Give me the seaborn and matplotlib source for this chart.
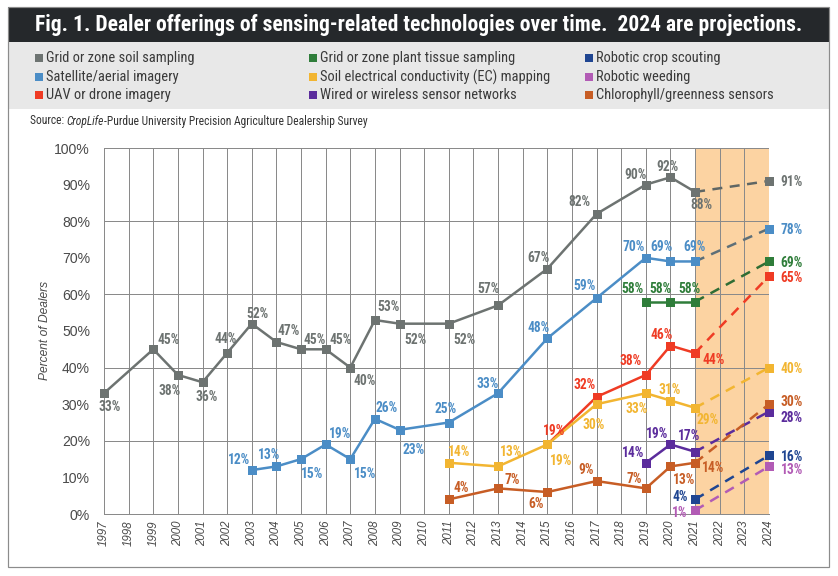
import numpy as np
import pandas as pd
import matplotlib
matplotlib.use("Agg")
import matplotlib.pyplot as plt
import seaborn as sns
from matplotlib.patches import Rectangle
from matplotlib.ticker import FuncFormatter
from matplotlib import font_manager as fm

# ---- data ----
soil_years = [1997, 1999, 2000, 2001, 2002, 2003, 2004, 2005, 2006, 2007, 2008, 2009, 2011, 2013, 2015, 2017, 2019, 2020, 2021, 2024]
soil = [33, 45, 38, 36, 44, 52, 47, 45, 45, 40, 53, 52, 52, 57, 67, 82, 90, 92, 88, 91]

sat_years = [2003, 2004, 2005, 2006, 2007, 2008, 2009, 2011, 2013, 2015, 2017, 2019, 2020, 2021, 2024]
sat = [12, 13, 15, 19, 15, 26, 23, 25, 33, 48, 59, 70, 69, 69, 78]

uav_years = [2015, 2017, 2019, 2020, 2021, 2024]
uav = [19, 32, 38, 46, 44, 65]

tissue_years = [2019, 2020, 2021, 2024]
tissue = [58, 58, 58, 69]

ec_years = [2011, 2013, 2015, 2017, 2019, 2020, 2021, 2024]
ec = [14, 13, 19, 30, 33, 31, 29, 40]

wired_years = [2019, 2020, 2021, 2024]
wired = [14, 19, 17, 28]

scout_years = [2021, 2024]
scout = [4, 16]

weed_years = [2021, 2024]
weed = [1, 13]

chloro_years = [2011, 2013, 2015, 2017, 2019, 2020, 2021, 2024]
chloro = [4, 7, 6, 9, 7, 13, 14, 30]

series_names = ["Grid or zone soil sampling", "Satellite/aerial imagery", "UAV or drone imagery",
                "Grid or zone plant tissue sampling", "Soil electrical conductivity (EC) mapping",
                "Wired or wireless sensor networks", "Robotic crop scouting", "Robotic weeding",
                "Chlorophyll/greenness sensors"]
series_years = [soil_years, sat_years, uav_years, tissue_years, ec_years, wired_years,
                scout_years, weed_years, chloro_years]
series_vals = [soil, sat, uav, tissue, ec, wired, scout, weed, chloro]

all_years = list(range(1997, 2025))
y_ticks = list(range(0, 101, 10))

# ---- styling ----
colors = ["#6d7371", "#4b8dc6", "#ef3b24", "#2f7d3a", "#f2b531", "#5b2c9c", "#1f4591", "#b25bb5", "#c75d25"]
dash_colors = ["#5f6664", "#5e6f78", "#ef3b24", "#2f6d34", "#f2b531", "#5b2c9c", "#1f4591", "#b25bb5", "#c75d25"]

# label offsets in px (dx, dy up), same order as the values
label_offsets = [
    [(6, -12), (15, 11), (-8, -15), (4, -13), (-1, 15), (6, 11), (12, 12), (14, 11), (15, 11), (14, -12),
     (14, 15), (16, -15), (16, -15), (-10, 18), (-9, 12), (-17, 13), (-10, 11), (-3, 12), (6, -12), (23, 0)],
    [(-13, 12), (-7, 13), (11, -13), (14, 12), (15, -13), (12, 12), (14, -19), (-3, 15), (-10, 11), (-9, 12),
     (-12, 14), (-12, 12), (-9, 16), (-1, 16), (23, 0)],
    [(7, 15), (-12, 13), (-15, 15), (-9, 12), (19, -6), (23, 0)],
    [(-13, 14), (-10, 14), (-6, 14), (23, 0)],
    [(10, 12), (13, 16), (14, -15), (-3, -19), (-9, -14), (-1, 12), (13, -11), (23, 0)],
    [(-13, 11), (-13, 12), (-6, 17), (23, -5)],
    [(-15, 4), (23, 0)],
    [(-15, -1), (23, -2)],
    [(12, 13), (14, 10), (-11, -10), (-10, 13), (-12, 11), (14, -12), (18, -4), (23, 4)],
]

sns.set_style("white")
names = {f.name for f in fm.fontManager.ttflist}
if "Roboto Condensed" in names:
    cond = "Roboto Condensed"
elif "Liberation Sans Narrow" in names:
    cond = "Liberation Sans Narrow"
else:
    cond = "DejaVu Sans"
plt.rcParams["font.family"] = ["Liberation Sans", "DejaVu Sans"]

W, H = 838, 576


def fx(px):
    return px / W


def fy(py):
    return 1 - py / H


fig = plt.figure(figsize=(W / 72, H / 72), dpi=72)
fig.patch.set_facecolor("white")

# header bar, legend band and outer frame
fig.add_artist(Rectangle((fx(8), fy(42)), fx(829) - fx(8), fy(7) - fy(42),
                         transform=fig.transFigure, fc="#25282b", ec="none"))
fig.add_artist(Rectangle((fx(8), fy(109)), fx(829) - fx(8), fy(42) - fy(109),
                         transform=fig.transFigure, fc="#e8e8e8", ec="none"))
fig.add_artist(Rectangle((fx(8), fy(567)), fx(829) - fx(8), fy(7) - fy(567),
                         transform=fig.transFigure, fill=False, ec="#8c8c8c", lw=1.2))

fig.text(fx(419), fy(25), "Fig. 1. Dealer offerings of sensing-related technologies over time.  2024 are projections.",
         color="white", fontsize=21.5, fontweight="bold", family=cond, fontstretch="condensed",
         ha="center", va="center")

# legend
leg_cols = [35, 309, 585]
leg_rows = [58, 77, 95]
col_order = [[0, 1, 2], [3, 4, 5], [6, 7, 8]]
for ci, idxs in enumerate(col_order):
    for ri, i in enumerate(idxs):
        x0, y0 = leg_cols[ci], leg_rows[ri]
        fig.add_artist(Rectangle((fx(x0), fy(y0 + 4)), fx(8), 8 / H, transform=fig.transFigure,
                                 fc=colors[i], ec="none"))
        fig.text(fx(x0 + 11), fy(y0), series_names[i], fontsize=14.5, color="#3a3a3a", family=cond,
                 fontstretch="condensed", ha="left", va="center")

# source line with italic CropLife
renderer = fig.canvas.get_renderer()
xs = fx(30)
for part, style in [("Source: ", "normal"), ("CropLife", "italic"),
                    ("-Purdue University Precision Agriculture Dealership Survey", "normal")]:
    t = fig.text(xs, fy(121), part, fontsize=11.5, color="#333333", family=cond, fontstretch="condensed",
                 style=style, ha="left", va="center")
    bb = t.get_window_extent(renderer=renderer)
    xs += bb.width / W

# ---- chart ----
ax = fig.add_axes([fx(104), fy(514), (769 - 104) / W, (514 - 148) / H])
ax.axvspan(2021, 2024, color="#fcd3a2", zorder=0, lw=0)

for i in range(len(series_names)):
    yrs = series_years[i]
    vals = series_vals[i]
    # projection (dashed)
    sns.lineplot(x=yrs[-2:], y=vals[-2:], color=dash_colors[i], lw=2.5, linestyle=(0, (4, 3)),
                 marker="s", markersize=9, markeredgewidth=0, markevery=[1], ax=ax,
                 clip_on=False, zorder=3)
    ax.lines[-1].set_markerfacecolor(colors[i])
    # observed (solid)
    sns.lineplot(x=yrs[:-1], y=vals[:-1], color=colors[i], lw=2.5, marker="s", markersize=9,
                 markeredgewidth=0, ax=ax, clip_on=False, zorder=4)
    for (yr, v), (dx, dy) in zip(zip(yrs, vals), label_offsets[i]):
        ax.annotate(f"{v}%", (yr, v), xytext=(dx, dy), textcoords="offset points",
                    ha="center", va="center_baseline", fontsize=13.5, fontweight="bold",
                    color=colors[i], family=cond, fontstretch="condensed",
                    annotation_clip=False, zorder=5)

ax.set_xlim(1997, 2024)
ax.set_ylim(0, 100)
ax.set_xticks(all_years)
ax.set_xticklabels([str(y) for y in all_years], rotation=90, style="italic")
ax.set_yticks([t for t in y_ticks if t % 20 == 0])
ax.set_yticks([t for t in y_ticks if t % 20 != 0], minor=True)
pct = FuncFormatter(lambda v, _: f"{v:.0f}%")
ax.yaxis.set_major_formatter(pct)
ax.yaxis.set_minor_formatter(pct)
ax.tick_params(axis="y", which="both", length=0, pad=14, labelsize=14, labelcolor="#4a4a4a")
ax.tick_params(axis="x", length=0, pad=6, labelsize=11.5, labelcolor="#4a4a4a")
ax.grid(True, which="major", color="#8a8a8a", lw=1)
ax.set_axisbelow(True)
for s in ["top", "right"]:
    ax.spines[s].set_visible(False)
for s in ["left", "bottom"]:
    ax.spines[s].set_color("#8a8a8a")
    ax.spines[s].set_linewidth(1)
ax.set_xlabel("")
ax.set_ylabel("")

fig.text(fx(45), fy(330), "Percent of Dealers", rotation=90, style="italic", fontsize=12,
         color="#4a4a4a", ha="center", va="center")

fig.savefig("out.png", dpi=72)
